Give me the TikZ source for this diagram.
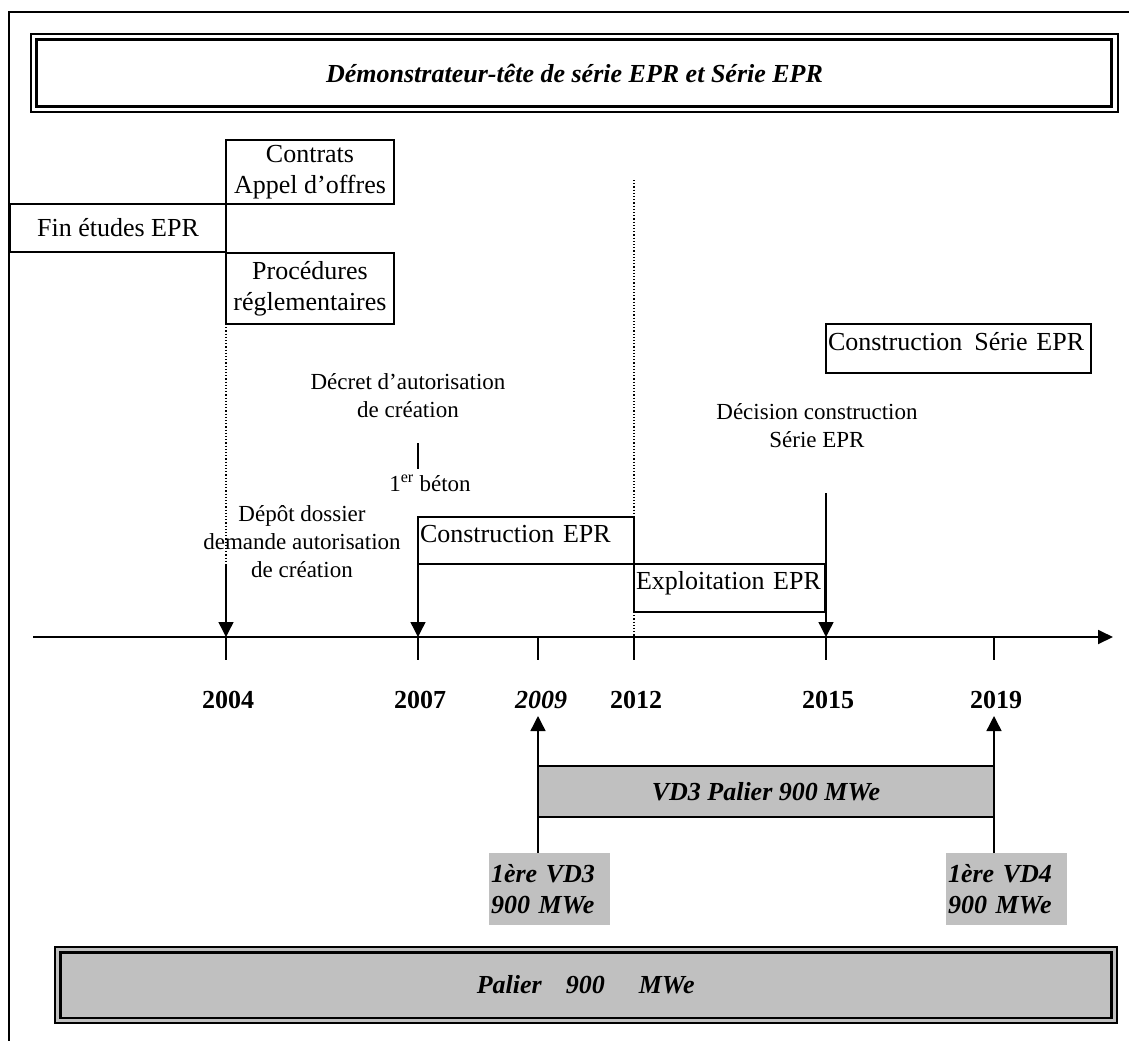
\documentclass[tikz,border=0pt]{standalone}
\usepackage{fontspec}
\setmainfont{Liberation Serif}
\usetikzlibrary{arrows.meta,positioning}
\definecolor{palgris}{RGB}{192,192,192}
\newcommand{\grandtexte}{\fontsize{26}{31}\selectfont}
\newcommand{\petittexte}{\fontsize{23}{28}\selectfont}
\tikzset{
  boite/.style={draw, line width=1.4pt, inner sep=0pt, outer sep=0pt,
    font=\grandtexte, align=center, anchor=north west},
  boitegauche/.style={draw, line width=1.4pt, inner xsep=2pt, inner ysep=0pt, outer sep=0pt,
    font=\grandtexte, align=left, anchor=north west, text height=18pt, text depth=15pt},
  cadre/.style={draw, line width=2pt, inner sep=0pt, outer sep=0pt, anchor=north west,
    font=\grandtexte\bfseries\itshape},
  note/.style={font=\petittexte, align=center, inner sep=0pt},
  annee/.style={font=\grandtexte\bfseries, inner sep=0pt},
  etiquette/.style={fill=palgris, inner xsep=2pt, inner ysep=0pt, outer sep=0pt,
    font=\grandtexte\bfseries\itshape, align=left, anchor=north west,
    minimum width=121pt, minimum height=72pt, text width=117pt},
  fleche/.style={line width=1.4pt, -{Triangle[length=15pt,width=15pt]}},
  tiret/.style={line width=1.4pt},
  pointille/.style={line width=1.2pt, dotted}
}

\begin{document}
\begin{tikzpicture}[x=1pt,y=-1pt]
\useasboundingbox (0,0) rectangle (1129,1041);
\draw[line width=2pt] (1129,12) -- (9,12) -- (9,1041);

% titre
\node[cadre, minimum width=1087pt, minimum height=78pt] (titre) at (31,34)
  {Démonstrateur-tête de série EPR et Série EPR};
\draw[line width=3pt] ([shift={(5,5.5)}]titre.north west) rectangle ([shift={(-6.5,-5.2)}]titre.south east);

% boites du haut
\node[boite, minimum width=168pt, minimum height=64pt] (contrats) at (226,140)
  {Contrats\\Appel d’offres};
\node[boite, minimum width=216pt, minimum height=48pt] (finetudes) at (10,204)
  {Fin études EPR};
\node[boite, minimum width=168pt, minimum height=71pt] (procedures) at (226,253)
  {Procédures\\réglementaires};
\node[boitegauche, minimum width=265pt, minimum height=49pt, text width=261pt] (serie) at (826,324)
  {\mbox{Construction\hspace{12pt}Série EPR}};
\node[boitegauche, minimum width=216pt, minimum height=47pt, text width=212pt] (constr) at (418,517)
  {Construction EPR};
\node[boitegauche, minimum width=191pt, minimum height=48pt, text width=187pt] (exploit) at (634,564)
  {Exploitation EPR};

% annotations
\node[note] (decret) at (408,396) {Décret d’autorisation\\de création};
\node[note] (decision) at (817,426) {Décision construction\\Série EPR};
\node[note] (depot) at (302,542) {Dépôt dossier\\demande autorisation\\de création};
\node[note] (beton) at (430,483) {1\textsuperscript{er} béton};

% axe
\coordinate (debut) at (33,637);
\coordinate (fin) at (1113,637);
\draw[line width=1.8pt, -{Triangle[length=15pt,width=14pt]}] (debut) -- (fin);
\foreach \x/\an in {226/2004,418/2007,538/2009,634/2012,826/2015,994/2019}{
  \coordinate (t\an) at (\x,637);
  \draw[tiret] (t\an) -- ++(0,23);
}
\foreach \x/\an in {228/2004,420/2007,636/2012,828/2015,996/2019}
  \node[annee] (y\an) at (\x,700) {\an};
\node[annee, font=\grandtexte\bfseries\itshape] (y2009) at (541,700) {2009};

% repères
\coordinate (d2004) at (226,565);
\coordinate (d2015) at (826,493);
\coordinate (p2012) at (634,180);
\coordinate (b1) at (418,443);
\coordinate (b2) at (418,469);
\coordinate (h2009) at (538,716);
\coordinate (h2019) at (994,716);
\draw[pointille] (procedures.south west) -- (d2004);
\draw[pointille] (p2012) -- (t2012);
\draw[tiret] (b1) -- (b2);
\draw[fleche] (d2004) -- (t2004);
\draw[fleche] (constr.south west) -- (t2007);
\draw[fleche] (d2015) -- (t2015);

% palier 900
\node[etiquette] (vd3) at (489,853) {1ère VD3\\900 MWe};
\node[etiquette] (vd4) at (946,853) {1ère VD4\\900 MWe};
\draw[fleche] (vd3.north -| h2009) -- (h2009);
\draw[fleche] (vd4.north -| h2019) -- (h2019);
\node[cadre, line width=1.4pt, fill=palgris, minimum width=456pt, minimum height=51pt] (palvd3) at (538,766)
  {VD3 Palier 900 MWe};
\node[cadre, fill=palgris, minimum width=1061.5pt, minimum height=76.5pt] (palier) at (55,946.5)
  {Palier\hspace{24pt}900\hspace{34pt}MWe};
\draw[line width=2.5pt] ([shift={(5.7,5.8)}]palier.north west) rectangle ([shift={(-5,-5)}]palier.south east);
\end{tikzpicture}
\end{document}
